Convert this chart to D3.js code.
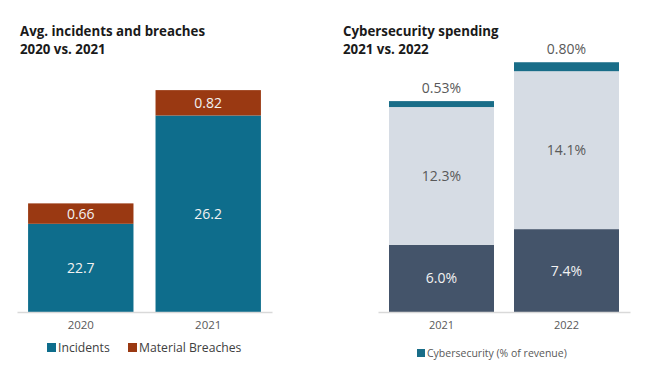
<!DOCTYPE html>
<html lang="en">
<head>
<meta charset="utf-8">
<title>Incidents and spending</title>
<script src="https://cdn.jsdelivr.net/npm/d3@7"></script>
<style>
  body { margin: 0; background: #fff; }
  svg { font-family: "Open Sans", sans-serif; }
</style>
</head>
<body>
<script>
// left chart data
var incYears = ["2020", "2021"];
var incidents = [22.7, 26.2];
var breaches = [0.66, 0.82];
var incSeries = ["Incidents", "Material Breaches"];

// right chart data
var spendYears = ["2021", "2022"];
var spendBase = [6.0, 7.4];
var spendMid = [12.3, 14.1];
var spendCyber = [0.53, 0.80];
var spendLegend = "Cybersecurity (% of revenue)";

var W = 646, H = 366, base = 312;
var svg = d3.select("body").append("svg").attr("width", W).attr("height", H);

// ---- left panel
var left = svg.append("g");
left.append("text").attr("x", 20).attr("y", 36).attr("font-size", 13.3).attr("font-weight", "bold")
  .attr("fill", "#1a1a1a").text("Avg. incidents and breaches");
left.append("text").attr("x", 20).attr("y", 54).attr("font-size", 13.3).attr("font-weight", "bold")
  .attr("fill", "#1a1a1a").text("2020 vs. 2021");

var xL = d3.scaleBand().domain(incYears).range([17, 272]).paddingInner(0.173).paddingOuter(0.087);
// axis in the source does not start at zero
var yL = d3.scaleLinear().domain([19.85, 27.25]).range([base, 83]);

var incRows = incYears.map(function (y, i) { return { year: y, inc: incidents[i], br: breaches[i] }; });
var stackL = d3.stack().keys(["inc", "br"])(incRows);
var colL = { inc: "#0e6d8c", br: "#9a3912" };

stackL.forEach(function (s) {
  left.selectAll(null).data(s).enter().append("rect")
    .attr("x", function (d) { return xL(d.data.year); })
    .attr("width", xL.bandwidth())
    .attr("y", function (d) { return yL(d[1]); })
    .attr("height", function (d) { return yL(Math.max(d[0], 19.85)) - yL(d[1]); })
    .attr("fill", colL[s.key]);
  left.selectAll(null).data(s).enter().append("text")
    .attr("x", function (d) { return xL(d.data.year) + xL.bandwidth() / 2; })
    .attr("y", function (d) { return (yL(Math.max(d[0], 19.85)) + yL(d[1])) / 2 + 5; })
    .attr("text-anchor", "middle").attr("font-size", 14).attr("fill", "#f2f2f2")
    .text(function (d) { return d.data[s.key]; });
});

var axL = left.append("g").attr("transform", "translate(0," + base + ")")
  .call(d3.axisBottom(xL).tickSize(0).tickPadding(9));
axL.select(".domain").attr("stroke", "#d9d9d9").attr("stroke-width", 1.5);
axL.selectAll("text").attr("font-size", 11.5).attr("fill", "#595959").attr("font-family", "Open Sans, sans-serif");

var legL = left.append("g").attr("transform", "translate(47,352)");
var legX = [0, 81];
incSeries.forEach(function (n, i) {
  legL.append("rect").attr("x", legX[i]).attr("y", -9).attr("width", 9).attr("height", 9)
    .attr("fill", i === 0 ? colL.inc : colL.br);
  legL.append("text").attr("x", legX[i] + 11).attr("y", 0).attr("font-size", 12.2)
    .attr("fill", "#404040").text(n);
});

// ---- right panel
var right = svg.append("g");
right.append("text").attr("x", 343).attr("y", 36).attr("font-size", 13.3).attr("font-weight", "bold")
  .attr("fill", "#1a1a1a").text("Cybersecurity spending");
right.append("text").attr("x", 343).attr("y", 54).attr("font-size", 13.3).attr("font-weight", "bold")
  .attr("fill", "#1a1a1a").text("2021 vs. 2022");

var xR = d3.scaleBand().domain(spendYears).range([378, 630]).paddingInner(0.16).paddingOuter(0.088);
var yR = d3.scaleLinear().domain([0, 25]).range([base, 32]);

var spRows = spendYears.map(function (y, i) {
  return { year: y, a: spendBase[i], b: spendMid[i], c: spendCyber[i] };
});
var stackR = d3.stack().keys(["a", "b", "c"])(spRows);
var colR = { a: "#44546a", b: "#d6dce4", c: "#196d88" };

stackR.forEach(function (s) {
  right.selectAll(null).data(s).enter().append("rect")
    .attr("x", function (d) { return xR(d.data.year); })
    .attr("width", xR.bandwidth())
    .attr("y", function (d) { return yR(d[1]); })
    .attr("height", function (d) { return yR(d[0]) - yR(d[1]); })
    .attr("fill", colR[s.key]);
  right.selectAll(null).data(s).enter().append("text")
    .attr("x", function (d) { return xR(d.data.year) + xR.bandwidth() / 2; })
    .attr("y", function (d) {
      if (s.key === "c") return yR(d[1]) - 8;
      return (yR(d[0]) + yR(d[1])) / 2 + 5;
    })
    .attr("text-anchor", "middle").attr("font-size", 14)
    .attr("fill", s.key === "a" ? "#f2f2f2" : "#595959")
    .text(function (d) { return d.data[s.key].toFixed(s.key === "c" ? 2 : 1) + "%"; });
});

var axR = right.append("g").attr("transform", "translate(0," + base + ")")
  .call(d3.axisBottom(xR).tickSize(0).tickPadding(9));
axR.select(".domain").attr("stroke", "#d9d9d9").attr("stroke-width", 1.5);
axR.selectAll("text").attr("font-size", 11).attr("fill", "#595959").attr("font-family", "Open Sans, sans-serif");

var legR = right.append("g").attr("transform", "translate(417,357)");
legR.append("rect").attr("x", 0).attr("y", -8).attr("width", 8).attr("height", 8).attr("fill", colR.c);
legR.append("text").attr("x", 10).attr("y", 0).attr("font-size", 10.5).attr("fill", "#595959").text(spendLegend);
</script>
</body>
</html>
